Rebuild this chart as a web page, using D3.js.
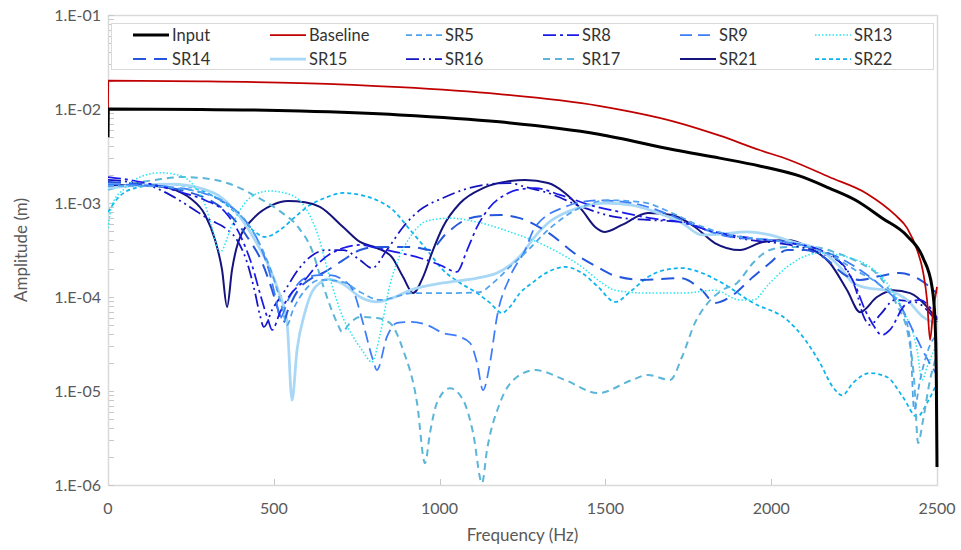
<!DOCTYPE html>
<html>
<head>
<meta charset="utf-8">
<script src="https://cdn.jsdelivr.net/npm/d3@7"></script>
<style>
  html, body { margin: 0; padding: 0; background: #fff; }
  svg text { font-family: Lato, "Open Sans", "Liberation Sans", sans-serif; }
</style>
</head>
<body>
<svg id="chart" width="961" height="550"></svg>
<script>
// Frequency response amplitudes: [frequency (Hz), amplitude (m)]
const input = [[0,5.0e-3],[1,1.0e-2],[280,9.9e-3],[580,9.5e-3],[880,8.65e-3],[1180,7.3e-3],[1480,5.4e-3],[1710,3.66e-3],[1845,3.0e-3],[1965,2.48e-3],[2085,1.94e-3],[2175,1.44e-3],[2255,1.07e-3],[2335,6.9e-4],[2410,4.46e-4],[2458,2.6e-4],[2485,1.28e-4],[2494,5.7e-5],[2498,1.3e-5],[2500,1.55e-6]];
const baseline = [[0,1.0e-2],[1,2.0e-2],[280,1.97e-2],[580,1.89e-2],[880,1.71e-2],[1180,1.44e-2],[1480,1.08e-2],[1710,7.3e-3],[1845,5.2e-3],[1965,3.66e-3],[2055,2.87e-3],[2175,1.89e-3],[2290,1.25e-3],[2373,7.5e-4],[2410,5.4e-4],[2440,3.16e-4],[2458,1.85e-4],[2470,9.3e-5],[2479,3.5e-5],[2488,6.8e-5],[2500,1.28e-4]];
const sr5 = [[0,1.52e-3],[97,1.52e-3],[202,1.44e-3],[308,1.22e-3],[383,8.44e-4],[434,5.17e-4],[473,2.8e-4],[504,1.41e-4],[525,7.67e-5],[540,5.04e-5],[558,7.3e-5],[594,1.18e-4],[639,1.52e-4],[709,1.44e-4],[760,1.13e-4],[820,9.3e-5],[920,1.1e-4],[1031,1.1e-4],[1122,1.13e-4],[1161,1.41e-4],[1212,2.09e-4],[1258,2.94e-4],[1327,5.17e-4],[1429,9.08e-4],[1508,1.07e-3],[1610,1.02e-3],[1701,7.84e-4],[1779,5.84e-4],[1876,4.57e-4],[1996,4.04e-4],[2087,3.58e-4],[2177,2.8e-4],[2253,1.94e-4],[2328,1.34e-4],[2388,8.23e-5],[2419,3.5e-5],[2431,6.3e-6],[2449,1.31e-5],[2479,3.09e-5],[2500,3.94e-5]];
const sr8 = [[0,1.89e-3],[66,1.76e-3],[142,1.55e-3],[217,1.31e-3],[293,1.07e-3],[353,8.03e-4],[398,4.57e-4],[434,2.19e-4],[464,9.3e-5],[483,5.7e-5],[495,4.46e-5],[519,6.9e-5],[549,1.05e-4],[594,1.52e-4],[639,2.36e-4],[709,3.32e-4],[760,3.58e-4],[811,3.32e-4],[881,2.94e-4],[941,2.6e-4],[1001,2.19e-4],[1052,1.85e-4],[1083,3.16e-4],[1113,5.56e-4],[1152,9.08e-4],[1197,1.22e-3],[1233,1.38e-3],[1288,1.44e-3],[1363,1.22e-3],[1454,9.5e-4],[1544,8.03e-4],[1635,6.9e-4],[1725,6.28e-4],[1830,4.92e-4],[1936,4.25e-4],[2057,3.75e-4],[2147,3.16e-4],[2207,2.36e-4],[2253,1.34e-4],[2283,7.3e-5],[2304,5.3e-5],[2334,3.94e-5],[2358,4.46e-5],[2404,8.23e-5],[2449,9.3e-5],[2500,5.98e-5]];
const sr9 = [[0,1.59e-3],[97,1.55e-3],[187,1.48e-3],[277,1.31e-3],[353,1.0e-3],[413,6.6e-4],[458,3.58e-4],[489,1.71e-4],[507,9.3e-5],[519,5.98e-5],[543,9.3e-5],[594,1.59e-4],[639,1.71e-4],[669,1.71e-4],[709,1.52e-4],[739,1.18e-4],[769,5.3e-5],[799,2.14e-5],[811,1.67e-5],[841,3.76e-5],[872,5.3e-5],[911,5.43e-5],[962,5.04e-5],[1010,4.14e-5],[1062,3.76e-5],[1092,3.24e-5],[1113,1.99e-5],[1131,1.02e-5],[1152,1.99e-5],[1173,6.13e-5],[1212,1.63e-4],[1258,3.16e-4],[1288,5.56e-4],[1378,9.08e-4],[1478,1.07e-3],[1580,1.0e-3],[1680,7.84e-4],[1779,5.56e-4],[1876,4.35e-4],[1996,4.04e-4],[2117,3.4e-4],[2207,2.6e-4],[2268,1.94e-4],[2328,1.34e-4],[2388,8.23e-5],[2434,3.94e-5],[2464,2.42e-5],[2500,1.48e-5]];
const sr13 = [[0,5.4e-4],[12,9.5e-4],[51,1.44e-3],[97,1.89e-3],[157,2.1e-3],[211,1.99e-3],[262,1.48e-3],[293,9.5e-4],[314,5.4e-4],[338,3.01e-4],[374,5.84e-4],[413,1.0e-3],[464,1.31e-3],[489,1.34e-3],[543,1.25e-3],[594,9.08e-4],[633,4.57e-4],[669,1.59e-4],[709,5.98e-5],[736,3.94e-5],[766,2.73e-5],[796,2.03e-5],[820,3.94e-5],[850,1.34e-4],[881,2.8e-4],[911,4.35e-4],[962,6.44e-4],[1031,6.9e-4],[1113,6.28e-4],[1212,4.92e-4],[1327,3.4e-4],[1429,2.09e-4],[1490,1.41e-4],[1529,1.18e-4],[1628,1.1e-4],[1731,1.1e-4],[1830,1.18e-4],[1906,9.3e-5],[1945,9.3e-5],[1996,1.41e-4],[2048,2.09e-4],[2096,2.66e-4],[2147,2.94e-4],[2229,2.66e-4],[2298,2.09e-4],[2349,1.41e-4],[2397,7.3e-5],[2440,2.73e-5],[2455,1.31e-5],[2470,1.8e-5],[2500,3.24e-5]];
const sr14 = [[0,1.67e-3],[97,1.59e-3],[172,1.48e-3],[241,1.31e-3],[308,1.07e-3],[368,7.46e-4],[422,4.25e-4],[464,2.36e-4],[495,1.18e-4],[513,7.3e-5],[528,5.3e-5],[543,7.3e-5],[573,1.18e-4],[615,1.59e-4],[648,1.8e-4],[709,2.47e-4],[760,3.16e-4],[811,3.4e-4],[920,3.4e-4],[971,3.16e-4],[1016,4.57e-4],[1071,6.44e-4],[1131,7.3e-4],[1182,7.46e-4],[1242,6.9e-4],[1324,4.92e-4],[1423,2.66e-4],[1475,2.09e-4],[1523,1.71e-4],[1613,1.52e-4],[1725,1.59e-4],[1791,1.18e-4],[1830,8.65e-5],[1876,1.0e-4],[1945,1.63e-4],[1996,2.3e-4],[2048,3.16e-4],[2102,3.16e-4],[2162,2.6e-4],[2223,1.71e-4],[2268,1.52e-4],[2328,1.67e-4],[2388,1.8e-4],[2449,1.52e-4],[2500,1.1e-4]];
const sr15 = [[0,1.44e-3],[97,1.55e-3],[193,1.59e-3],[277,1.44e-3],[344,1.13e-3],[398,7.11e-4],[443,4.04e-4],[479,2.36e-4],[513,1.18e-4],[540,5.3e-5],[555,8.0e-6],[570,2.73e-5],[594,6.9e-5],[615,1.13e-4],[639,1.41e-4],[660,1.55e-4],[709,1.37e-4],[760,1.0e-4],[811,8.85e-5],[859,9.8e-5],[911,1.18e-4],[1010,1.41e-4],[1113,1.59e-4],[1173,1.8e-4],[1221,2.3e-4],[1258,3.16e-4],[1279,4.04e-4],[1327,6.13e-4],[1378,7.84e-4],[1429,9.08e-4],[1499,1.0e-3],[1580,9.5e-4],[1650,8.03e-4],[1731,6.13e-4],[1791,4.57e-4],[1846,4.67e-4],[1927,4.92e-4],[1996,4.57e-4],[2066,3.85e-4],[2147,3.16e-4],[2207,2.09e-4],[2247,1.41e-4],[2289,1.25e-4],[2349,1.18e-4],[2410,9.3e-5],[2458,6.13e-5],[2500,5.2e-5]];
const sr16 = [[0,1.76e-3],[66,1.67e-3],[127,1.52e-3],[187,1.22e-3],[247,9.08e-4],[308,6.6e-4],[353,5.43e-4],[389,4.04e-4],[419,2.36e-4],[443,1.13e-4],[458,6.44e-5],[470,4.8e-5],[495,7.3e-5],[534,1.18e-4],[573,1.94e-4],[609,2.66e-4],[660,3.16e-4],[709,3.16e-4],[760,2.47e-4],[796,2.03e-4],[841,3.16e-4],[890,5.56e-4],[941,8.44e-4],[1010,1.13e-3],[1071,1.38e-3],[1131,1.55e-3],[1212,1.63e-3],[1258,1.48e-3],[1327,1.28e-3],[1429,9.08e-4],[1529,7.11e-4],[1628,6.6e-4],[1731,6.28e-4],[1830,4.8e-4],[1936,4.04e-4],[2057,3.58e-4],[2147,2.94e-4],[2217,2.19e-4],[2256,1.18e-4],[2277,6.44e-5],[2298,5.04e-5],[2328,6.44e-5],[2373,9.3e-5],[2434,8.85e-5],[2500,5.43e-5]];
const sr17 = [[0,1.38e-3],[66,1.59e-3],[142,1.76e-3],[223,1.89e-3],[308,1.8e-3],[383,1.52e-3],[443,1.19e-3],[513,8.44e-4],[573,5.56e-4],[615,3.16e-4],[648,1.34e-4],[691,5.3e-5],[706,4.25e-5],[730,5.3e-5],[760,6.13e-5],[811,5.98e-5],[850,5.3e-5],[890,2.73e-5],[932,7.46e-6],[956,1.71e-6],[971,3.58e-6],[992,7.46e-6],[1031,1.07e-5],[1071,8.03e-6],[1101,3.58e-6],[1128,1.05e-6],[1143,2.36e-6],[1182,7.46e-6],[1233,1.41e-5],[1288,1.67e-5],[1378,1.31e-5],[1478,9.5e-6],[1580,1.31e-5],[1628,1.48e-5],[1695,1.31e-5],[1731,2.3e-5],[1770,5.3e-5],[1809,8.65e-5],[1852,1.18e-4],[1897,1.41e-4],[1945,2.3e-4],[1996,3.16e-4],[2048,3.4e-4],[2126,3.4e-4],[2198,2.94e-4],[2268,2.3e-4],[2328,1.63e-4],[2379,8.23e-5],[2413,3.94e-5],[2431,1.31e-5],[2443,2.8e-6],[2458,4.92e-6],[2479,1.31e-5],[2500,2.42e-5]];
const sr21 = [[0,1.52e-3],[66,1.55e-3],[142,1.52e-3],[202,1.38e-3],[247,1.13e-3],[293,7.46e-4],[323,4.04e-4],[344,1.94e-4],[359,7.84e-5],[374,1.94e-4],[392,3.75e-4],[443,7.11e-4],[495,9.5e-4],[543,1.05e-3],[594,1.02e-3],[639,9.1e-4],[709,5.56e-4],[760,3.85e-4],[811,3.32e-4],[856,2.66e-4],[890,1.63e-4],[920,1.1e-4],[950,1.63e-4],[980,3.16e-4],[1010,5.56e-4],[1062,1.0e-3],[1131,1.44e-3],[1212,1.71e-3],[1258,1.76e-3],[1327,1.63e-3],[1378,1.28e-3],[1429,8.44e-4],[1469,5.56e-4],[1499,4.92e-4],[1550,5.84e-4],[1628,7.84e-4],[1701,7.46e-4],[1770,5.56e-4],[1830,3.75e-4],[1906,3.16e-4],[1975,3.85e-4],[2048,4.04e-4],[2117,3.32e-4],[2177,2.3e-4],[2229,1.18e-4],[2268,6.9e-5],[2319,1.0e-4],[2367,1.18e-4],[2419,1.1e-4],[2470,7.84e-5],[2500,5.7e-5]];
const sr22 = [[0,8.0e-4],[30,1.13e-3],[81,1.44e-3],[172,1.59e-3],[262,1.44e-3],[338,1.07e-3],[398,7.11e-4],[443,4.92e-4],[473,4.35e-4],[519,5.17e-4],[564,7.11e-4],[609,9.5e-4],[654,1.13e-3],[709,1.28e-3],[760,1.22e-3],[811,1.07e-3],[859,8.44e-4],[911,5.17e-4],[962,3.16e-4],[1010,1.94e-4],[1062,1.41e-4],[1113,1.1e-4],[1152,8.65e-5],[1188,6.77e-5],[1212,7.84e-5],[1242,1.1e-4],[1279,1.41e-4],[1327,1.85e-4],[1378,2.09e-4],[1429,1.8e-4],[1478,1.28e-4],[1529,8.85e-5],[1580,1.18e-4],[1628,1.63e-4],[1680,1.94e-4],[1731,2.03e-4],[1791,1.8e-4],[1852,1.41e-4],[1945,8.65e-5],[2048,5.7e-5],[2096,3.76e-5],[2147,1.99e-5],[2186,1.1e-5],[2214,9.0e-6],[2247,1.22e-5],[2298,1.55e-5],[2349,1.41e-5],[2397,8.65e-6],[2440,5.3e-6],[2470,7.46e-6],[2500,1.22e-5]];

// Axis ticks
const xTicks = [0, 500, 1000, 1500, 2000, 2500];
const yTicks = [1e-1, 1e-2, 1e-3, 1e-4, 1e-5, 1e-6];
const yTickLabels = ["1.E-01", "1.E-02", "1.E-03", "1.E-04", "1.E-05", "1.E-06"];

// Series appearance
const series = [
  { name: "Input",    data: input,    color: "#000000", width: 3,    dash: null },
  { name: "Baseline", data: baseline, color: "#C00000", width: 1.75, dash: null },
  { name: "SR5",      data: sr5,      color: "#4FA3EE", width: 1.75, dash: "6,4" },
  { name: "SR8",      data: sr8,      color: "#1A1AE8", width: 1.75, dash: "13,4,3,4" },
  { name: "SR9",      data: sr9,      color: "#3D7DFA", width: 1.75, dash: "12,6" },
  { name: "SR13",     data: sr13,     color: "#22E6F2", width: 1.5,  dash: "1.5,2" },
  { name: "SR14",     data: sr14,     color: "#2457DC", width: 2,    dash: "13,8" },
  { name: "SR15",     data: sr15,     color: "#A8D8F5", width: 2.75, dash: null },
  { name: "SR16",     data: sr16,     color: "#1414C4", width: 1.75, dash: "13,4,2,4,2,4" },
  { name: "SR17",     data: sr17,     color: "#5BB6D8", width: 2,    dash: "7,5" },
  { name: "SR21",     data: sr21,     color: "#14147C", width: 2,    dash: null },
  { name: "SR22",     data: sr22,     color: "#0AB4EE", width: 1.75, dash: "4,3" }
];

const plot = { left: 108, right: 937, top: 15, bottom: 485 };
const svg = d3.select("#chart");

const x = d3.scaleLinear().domain([0, 2500]).range([plot.left, plot.right]);
const y = d3.scaleLog().domain([1e-6, 1e-1]).range([plot.bottom, plot.top]);

svg.append("rect").attr("width", 961).attr("height", 550).attr("fill", "#fff");

svg.append("defs").append("clipPath").attr("id", "plotClip")
  .append("rect")
  .attr("x", plot.left).attr("y", plot.top - 2)
  .attr("width", plot.right - plot.left + 2).attr("height", plot.bottom - plot.top + 4);

// Plot frame
svg.append("rect")
  .attr("x", plot.left + 0.5).attr("y", plot.top + 0.5)
  .attr("width", plot.right - plot.left).attr("height", plot.bottom - plot.top)
  .attr("fill", "none").attr("stroke", "#D9D9D9").attr("stroke-width", 1.5);

// Log minor/major ticks on the value axis (drawn inward)
const yMinor = [];
for (let e = -6; e < -1; e++) for (let m = 1; m < 10; m++) yMinor.push(m * Math.pow(10, e));
yMinor.push(1e-1);
svg.append("g").selectAll("line").data(yMinor).join("line")
  .attr("x1", plot.left + 1).attr("x2", plot.left + 6)
  .attr("y1", d => Math.round(y(d)) + 0.5).attr("y2", d => Math.round(y(d)) + 0.5)
  .attr("stroke", "#C8C8C8").attr("stroke-width", 1);

// Frequency axis ticks (inward)
svg.append("g").selectAll("line").data(xTicks.slice(1, -1)).join("line")
  .attr("x1", d => Math.round(x(d)) + 0.5).attr("x2", d => Math.round(x(d)) + 0.5)
  .attr("y1", plot.bottom).attr("y2", plot.bottom - 6)
  .attr("stroke", "#C8C8C8").attr("stroke-width", 1);

// Tick labels
svg.append("g").selectAll("text").data(yTicks).join("text")
  .attr("x", 101).attr("y", d => y(d))
  .attr("dy", "0.35em").attr("text-anchor", "end")
  .attr("font-size", 16).attr("fill", "#595959")
  .text((d, i) => yTickLabels[i]);

svg.append("g").selectAll("text").data(xTicks).join("text")
  .attr("x", d => x(d)).attr("y", 514)
  .attr("text-anchor", "middle")
  .attr("font-size", 16).attr("fill", "#595959")
  .text(d => d);

// Axis titles
svg.append("text")
  .attr("x", (plot.left + plot.right) / 2).attr("y", 541)
  .attr("text-anchor", "middle").attr("font-size", 17).attr("fill", "#595959")
  .text("Frequency (Hz)");
svg.append("text")
  .attr("transform", "translate(27,250) rotate(-90)")
  .attr("text-anchor", "middle").attr("font-size", 17).attr("fill", "#595959")
  .text("Amplitude (m)");

// Curves
const line = d3.line()
  .x(d => x(d[0]))
  .y(d => y(d[1]))
  .curve(d3.curveMonotoneX);

const curves = svg.append("g").attr("clip-path", "url(#plotClip)");
series.slice().reverse().forEach(s => {
  curves.append("path")
    .datum(s.data)
    .attr("d", line)
    .attr("fill", "none")
    .attr("stroke", s.color)
    .attr("stroke-width", s.width)
    .attr("stroke-dasharray", s.dash)
    .attr("stroke-linejoin", "round");
});

// Legend
const legend = svg.append("g");
legend.append("rect")
  .attr("x", 111.5).attr("y", 23.5).attr("width", 822).attr("height", 46)
  .attr("fill", "#fff").attr("stroke", "#D9D9D9").attr("stroke-width", 1);

const colX = [133, 270, 406, 543, 680, 815];
const rowY = [35, 59];
series.forEach((s, i) => {
  const cx = colX[i % 6], cy = rowY[Math.floor(i / 6)];
  legend.append("line")
    .attr("x1", cx).attr("x2", cx + 36)
    .attr("y1", cy).attr("y2", cy)
    .attr("stroke", s.color).attr("stroke-width", s.width)
    .attr("stroke-dasharray", s.dash);
  legend.append("text")
    .attr("x", cx + 39).attr("y", cy).attr("dy", "0.35em")
    .attr("font-size", 16.5).attr("fill", "#333")
    .text(s.name);
});
</script>
</body>
</html>
